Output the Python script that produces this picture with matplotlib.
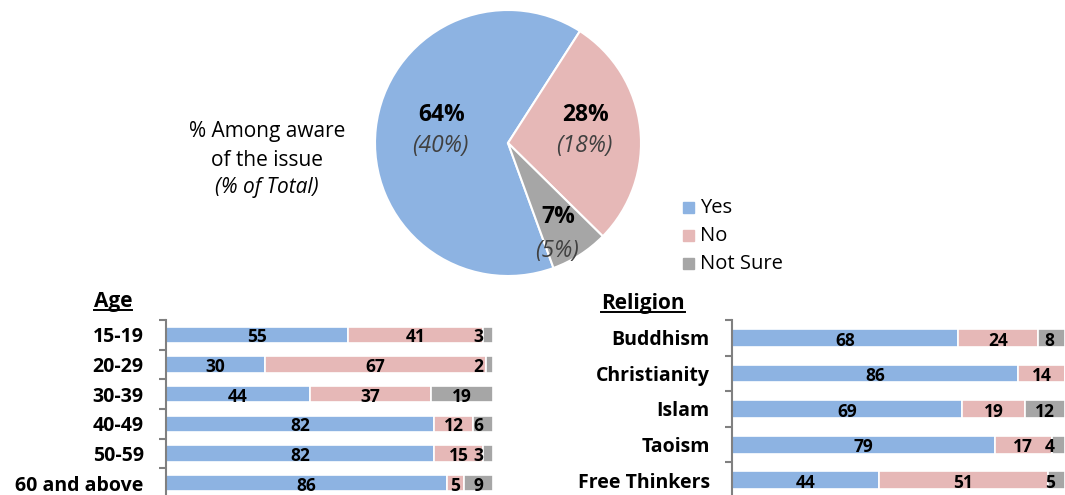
import matplotlib
matplotlib.use('Agg')
import matplotlib.pyplot as plt
from matplotlib.lines import Line2D
import numpy as np

plt.rcParams['font.family'] = ['Open Sans', 'DejaVu Sans']

# pie data
pie_labels = ['Yes', 'No', 'Not Sure']
pie_aware = [64, 28, 7]
pie_total = [40, 18, 5]

# age breakdown
age_groups = ['15-19', '20-29', '30-39', '40-49', '50-59', '60 and above']
age_yes = [55, 30, 44, 82, 82, 86]
age_no = [41, 67, 37, 12, 15, 5]
age_ns = [3, 2, 19, 6, 3, 9]

# religion breakdown
religions = ['Buddhism', 'Christianity', 'Islam', 'Taoism', 'Free Thinkers']
rel_yes = [68, 86, 69, 79, 44]
rel_no = [24, 14, 19, 17, 51]
rel_ns = [8, 0, 12, 4, 5]

colors = ['#8DB3E2', '#E6B8B7', '#A6A6A6']

W, H = 1065, 495
fig = plt.figure(figsize=(W / 100, H / 100), dpi=100)


def box(x0, y0, x1, y1):
    # pixel box (top-left origin) -> figure fraction
    return [x0 / W, 1 - y1 / H, (x1 - x0) / W, (y1 - y0) / H]


# ---- pie ----
axp = fig.add_axes(box(375, 10, 641, 276))
axp.pie(pie_aware, colors=colors, startangle=290, counterclock=False,
        wedgeprops=dict(edgecolor='white', linewidth=1.5))
axp.set_xlim(-1, 1)
axp.set_ylim(-1, 1)
axp.set_aspect('equal')

# label spots in pie units: (x, y of bold %, y of total %)
lab_pos = [(-0.50, 0.21, -0.02), (0.58, 0.21, -0.02), (0.38, -0.56, -0.81)]
for (x, y1, y2), a, t in zip(lab_pos, pie_aware, pie_total):
    axp.text(x, y1, f'{a}%', ha='center', va='center', fontsize=16.5,
             fontweight='bold', color='black')
    axp.text(x - 0.01, y2, f'({t}%)', ha='center', va='center', fontsize=16.5,
             style='italic', color='#404040')

fig.text(267 / W, 1 - 132 / H, '% Among aware', ha='center', va='center', fontsize=15)
fig.text(267 / W, 1 - 160 / H, 'of the issue', ha='center', va='center', fontsize=15)
fig.text(267 / W, 1 - 188 / H, '(% of Total)', ha='center', va='center', fontsize=15,
         style='italic')

for i, (lab, c) in enumerate(zip(pie_labels, colors)):
    y = 1 - (208 + i * 28) / H
    fig.patches.append(plt.Rectangle((683 / W, y - 5 / H), 11 / W, 11 / H,
                                     transform=fig.transFigure, color=c))
    fig.text(700 / W, y, lab, ha='left', va='center', fontsize=14.5)


# ---- stacked bars ----
def stacked(ax, cats, yes, no, ns, height):
    n = len(cats)
    ypos = np.arange(n)
    vals = np.array([yes, no, ns], dtype=float)
    tot = vals.sum(axis=0)
    share = vals / tot * 100
    left = np.zeros(n)
    for k in range(3):
        ax.barh(ypos, share[k], left=left, height=height, color=colors[k],
                edgecolor='white', linewidth=1.2)
        for i in range(n):
            if vals[k, i] > 0:
                cx = min(left[i] + share[k, i] / 2, 95.4)
                ax.text(cx, ypos[i] + 0.08, f'{int(vals[k, i])}', ha='center',
                        va='center', fontsize=12.5, fontweight='bold')
        left += share[k]
    ax.set_xlim(0, 100)
    ax.set_ylim(n - 0.5, -0.5)
    ax.set_yticks(ypos)
    ax.set_yticklabels(cats, fontsize=14, fontweight='bold')
    ax.set_yticks(np.arange(n + 1) - 0.5, minor=True)
    ax.tick_params(axis='y', which='minor', length=5, width=1.5, color='#808080',
                   direction='out')
    ax.set_xticks([])
    for s in ['top', 'right', 'bottom']:
        ax.spines[s].set_visible(False)
    ax.spines['left'].set_color('#808080')
    ax.spines['left'].set_linewidth(1.5)


ax1 = fig.add_axes(box(166, 320, 493, 498))
stacked(ax1, age_groups, age_yes, age_no, age_ns, 0.55)
ax1.tick_params(axis='y', which='major', length=0, pad=16)

ax2 = fig.add_axes(box(732, 320, 1065, 498))
stacked(ax2, religions, rel_yes, rel_no, rel_ns, 0.5)
ax2.tick_params(axis='y', which='major', length=0, pad=16)

# underlined section titles
t1 = fig.text(113 / W, 1 - 301 / H, 'Age', ha='center', va='center', fontsize=15,
              fontweight='bold')
t2 = fig.text(643 / W, 1 - 304 / H, 'Religion', ha='center', va='center', fontsize=15,
              fontweight='bold')
fig.canvas.draw()
r = fig.canvas.get_renderer()
for t in (t1, t2):
    bb = t.get_window_extent(r).transformed(fig.transFigure.inverted())
    fig.lines.append(Line2D([bb.x0, bb.x1], [bb.y0 + 2 / H, bb.y0 + 2 / H],
                            transform=fig.transFigure, color='black', linewidth=1.4))

fig.savefig('out.png', dpi=100)
